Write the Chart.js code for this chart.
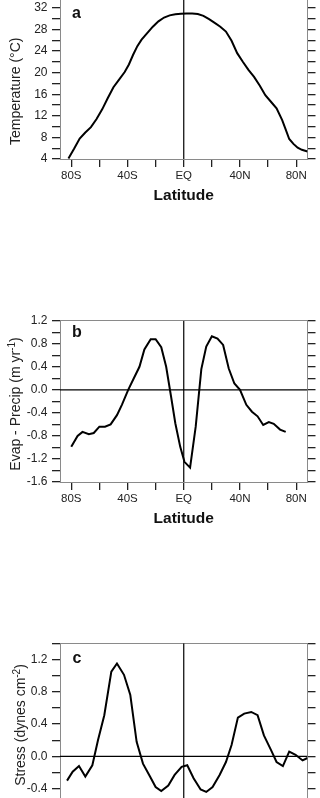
<!DOCTYPE html>
<html>
<head>
<meta charset="utf-8">
<script src="https://cdn.jsdelivr.net/npm/chart.js@4.4.1/dist/chart.umd.min.js"></script>
<style>
  html, body { margin: 0; padding: 0; background: #fff; }
  body { width: 320px; height: 798px; overflow: hidden; position: relative; }
  .panel { position: absolute; left: 0; width: 320px; }
  canvas { display: block; }
</style>
</head>
<body>
<div class="panel" style="top:-30px"><canvas id="chartA" width="320" height="239"></canvas></div>
<div class="panel" style="top:300px"><canvas id="chartB" width="320" height="232"></canvas></div>
<div class="panel" style="top:630px"><canvas id="chartC" width="320" height="241"></canvas></div>
<script>
// latitude axis
const latTicks = [-80, -60, -40, -20, 0, 20, 40, 60, 80]
const latTickLabels = ['80S', '', '40S', '', 'EQ', '', '40N', '', '80N']

// a: temperature (deg C)
const tempLat = [-82, -78, -74, -70, -66, -62, -58, -54, -50, -46, -42, -39, -36, -33, -30, -26, -22, -18, -14, -10, -6, -2,
  2, 6, 10, 14, 18, 22, 26, 30, 34, 38, 42, 46, 50, 54, 58, 62, 66, 70, 72, 75, 78, 81, 84, 88]
const tempValues = [4.1, 5.9, 7.8, 8.9, 9.9, 11.4, 13.2, 15.3, 17.3, 18.7, 20.1, 21.5, 23.3, 24.9, 26.1, 27.3, 28.5, 29.5, 30.2, 30.6, 30.8, 30.9,
  30.95, 30.95, 30.85, 30.5, 29.9, 29.2, 28.5, 27.6, 25.9, 23.6, 22.0, 20.5, 19.2, 17.6, 15.8, 14.6, 13.4, 11.2, 9.8, 7.7, 6.8, 6.1, 5.7, 5.4]
const tempYLabels = ['4', '8', '12', '16', '20', '24', '28', '32']

// b: evaporation - precipitation (m/yr)
const epLat = [-80, -75.5, -72, -67.5, -64, -60, -56, -52, -47.5, -44, -39.5, -35.5, -31.5, -28, -23.5, -20, -16, -12.5, -9, -6,
  -2.5, 0.5, 4.5, 8.5, 12.5, 16, 20, 24, 28, 32, 36, 40, 44.5, 48.5, 52.5, 56.5, 60.5, 64, 68.5, 72.5]
const epValues = [-0.99, -0.80, -0.73, -0.77, -0.75, -0.64, -0.64, -0.60, -0.44, -0.26, 0.0, 0.20, 0.40, 0.70, 0.88, 0.88, 0.74, 0.40, -0.12, -0.58,
  -0.99, -1.25, -1.35, -0.64, 0.36, 0.75, 0.93, 0.89, 0.78, 0.37, 0.11, 0.0, -0.26, -0.38, -0.46, -0.61, -0.56, -0.59, -0.69, -0.73]
const epYLabels = ['-1.6', '-1.2', '-0.8', '-0.4', '0.0', '0.4', '0.8', '1.2']

// c: wind stress (dynes/cm2)
const stressLat = [-83, -79, -74.5, -70, -65, -61, -56.5, -51.5, -47.5, -42.5, -38, -33.5, -29, -24, -20, -16, -11, -6.5, -1.5,
  2.5, 7, 12, 16, 20.5, 25.5, 30, 34, 38.5, 43, 48, 52.5, 57, 62, 66, 70.5, 75, 79.5, 84.5, 88]
const stressValues = [-0.30, -0.19, -0.12, -0.25, -0.11, 0.20, 0.51, 1.05, 1.15, 1.01, 0.76, 0.18, -0.09, -0.25, -0.38, -0.43, -0.36, -0.23, -0.13,
  -0.11, -0.27, -0.41, -0.44, -0.38, -0.23, -0.07, 0.14, 0.48, 0.53, 0.55, 0.51, 0.26, 0.08, -0.07, -0.12, 0.06, 0.02, -0.05, -0.02]
const stressYLabels = ['-0.4', '0.0', '0.4', '0.8', '1.2']

const family = "'Liberation Sans', Arial, Helvetica, sans-serif"
const frameColor = '#8a8a8a'
const tickColor = '#222'

// panel letter + rotated y title (with superscripts)
const panelText = {
  id: 'panelText',
  afterDraw(chart, args, opts) {
    const ctx = chart.ctx
    ctx.save()
    ctx.fillStyle = '#111'
    ctx.textBaseline = 'alphabetic'
    ctx.textAlign = 'left'
    ctx.font = `bold 16px ${family}`
    ctx.fillText(opts.letter, opts.letterX, opts.letterY)

    ctx.fillStyle = '#222'
    ctx.translate(opts.titleX, opts.titleY)
    ctx.rotate(-Math.PI / 2)
    const fontFor = p => p.sup ? `10px ${family}` : `14px ${family}`
    const widths = opts.title.map(p => { ctx.font = fontFor(p); return ctx.measureText(p.text).width })
    let x = -widths.reduce((a, b) => a + b, 0) / 2
    opts.title.forEach((p, i) => {
      ctx.font = fontFor(p)
      ctx.fillText(p.text, x, p.sup ? -5 : 0)
      x += widths[i]
    })
    ctx.restore()
  }
}

function makeTicks(min, max, step) {
  const out = []
  const n = Math.round((max - min) / step)
  for (let i = 0; i <= n; i++) out.push({ value: Math.round((min + i * step) * 1e6) / 1e6 })
  return out
}

function makeChart(id, cfg) {
  const series = cfg.lat.map((x, i) => ({ x: x, y: cfg.values[i] }))
  const datasets = [
    { data: series, borderColor: '#000', borderWidth: 2, pointRadius: 0, tension: 0, xAxisID: 'x', yAxisID: 'y' },
    { data: [{ x: 0, y: cfg.yMin }, { x: 0, y: cfg.yMax }], borderColor: '#000', borderWidth: 1.2, pointRadius: 0, xAxisID: 'x', yAxisID: 'y' }
  ]
  if (cfg.zeroLine) {
    datasets.push({ data: [{ x: -88, y: 0 }, { x: 88, y: 0 }], borderColor: '#000', borderWidth: 1.2, pointRadius: 0, xAxisID: 'x', yAxisID: 'y' })
  }

  const yLabel = v => {
    const hit = cfg.yLabels.find(l => Math.abs(Number(l) - v) < 1e-6)
    return hit === undefined ? '' : hit
  }
  const grid = { drawOnChartArea: false, tickLength: 8, color: tickColor, lineWidth: 1.3 }
  const border = { color: frameColor, width: 1 }

  new Chart(document.getElementById(id), {
    type: 'line',
    data: { datasets: datasets },
    options: {
      responsive: false,
      animation: false,
      events: [],
      layout: { padding: { top: cfg.padTop, left: 0, right: 0, bottom: 0 } },
      plugins: {
        legend: { display: false },
        tooltip: { enabled: false },
        panelText: cfg.text
      },
      scales: {
        x: {
          type: 'linear', position: 'bottom', min: -88, max: 88,
          afterBuildTicks: s => { s.ticks = latTicks.map(v => ({ value: v })) },
          afterFit: s => { s.height = 50 },
          ticks: {
            autoSkip: false, maxRotation: 0, padding: 2, color: '#222',
            font: { family: family, size: 11.5 },
            callback: v => latTickLabels[latTicks.indexOf(v)] || ''
          },
          grid: grid,
          border: border,
          title: {
            display: true, text: 'Latitude', color: '#111',
            font: { family: family, size: 15.5, weight: 'bold' },
            padding: { top: 0, bottom: 4 }
          }
        },
        xTop: {
          type: 'linear', position: 'top', min: -88, max: 88,
          afterFit: s => { s.height = 0 },
          ticks: { display: false },
          grid: { display: false },
          border: border
        },
        y: {
          type: 'linear', position: 'left', min: cfg.yMin, max: cfg.yMax,
          afterBuildTicks: s => { s.ticks = makeTicks(cfg.yMin, cfg.yMax, cfg.minorStep) },
          afterFit: s => { s.width = 60 },
          ticks: {
            autoSkip: false, padding: 4.5, color: '#222',
            font: { family: family, size: 12 },
            callback: yLabel
          },
          grid: grid,
          border: border
        },
        yR: {
          type: 'linear', position: 'right', min: cfg.yMin, max: cfg.yMax,
          afterBuildTicks: s => { s.ticks = makeTicks(cfg.yMin, cfg.yMax, cfg.minorStep) },
          afterFit: s => { s.width = 12.5 },
          ticks: { display: false },
          grid: grid,
          border: border
        }
      }
    },
    plugins: [panelText]
  })
}

makeChart('chartA', {
  lat: tempLat, values: tempValues, yMin: 4, yMax: 36, minorStep: 2, yLabels: tempYLabels,
  padTop: 16.2, zeroLine: false,
  text: { letter: 'a', letterX: 72, letterY: 48.3, titleX: 19.5, titleY: 121.3,
    title: [{ text: 'Temperature (\u00B0C)' }] }
})

makeChart('chartB', {
  lat: epLat, values: epValues, yMin: -1.6, yMax: 1.2, minorStep: 0.2, yLabels: epYLabels,
  padTop: 20.7, zeroLine: true,
  text: { letter: 'b', letterX: 72, letterY: 36.5, titleX: 19.5, titleY: 104,
    title: [{ text: 'Evap - Precip (m yr' }, { text: '-1', sup: true }, { text: ')' }] }
})

makeChart('chartC', {
  lat: stressLat, values: stressValues, yMin: -0.8, yMax: 1.4, minorStep: 0.2, yLabels: stressYLabels,
  padTop: 13.3, zeroLine: true,
  text: { letter: 'c', letterX: 72.5, letterY: 33.3, titleX: 24.5, titleY: 95,
    title: [{ text: 'Stress (dynes cm' }, { text: '-2', sup: true }, { text: ')' }] }
})
</script>
</body>
</html>
